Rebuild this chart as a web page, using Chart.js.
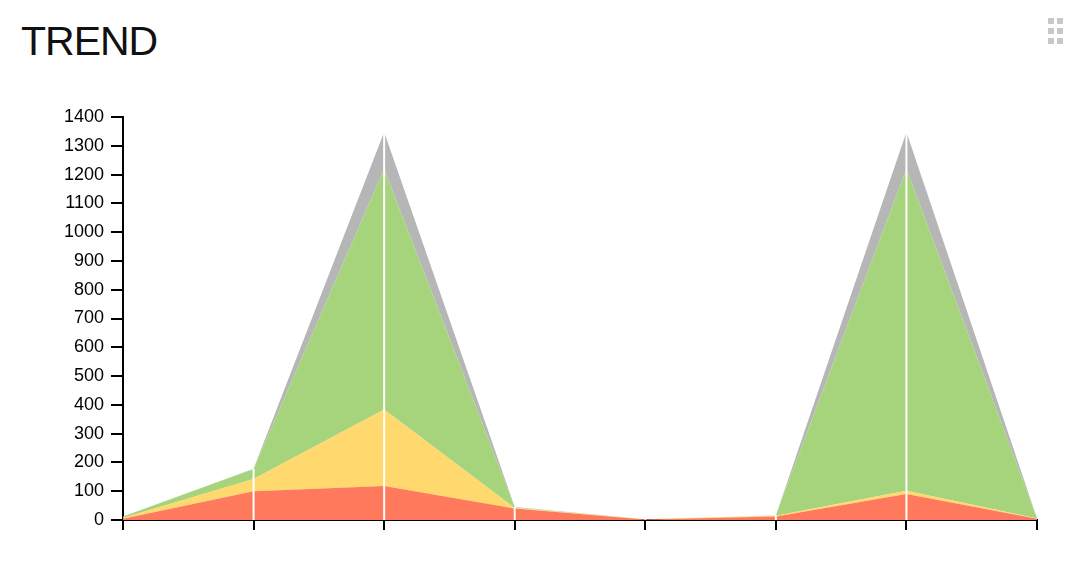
<!DOCTYPE html>
<html>
<head>
<meta charset="utf-8">
<script src="https://cdn.jsdelivr.net/npm/chart.js@4/dist/chart.umd.min.js"></script>
<style>
  html, body { margin:0; padding:0; background:#fff; }
  #wrap { position:relative; width:1080px; height:580px; overflow:hidden; }
  #title { position:absolute; left:21px; top:18px; font-family:"Liberation Sans", Arial, sans-serif; font-size:41px; color:#111; letter-spacing:-1px; }
  #grip { position:absolute; left:1048px; top:18px; width:16px; height:26px; }
  #grip div { position:absolute; width:6px; height:6px; background:#c8c8c8; }
  #cv { position:absolute; left:0; top:0; }
</style>
</head>
<body>
<div id="wrap">
  <div id="title">TREND</div>
  <div id="grip">
    <div style="left:0;top:0"></div><div style="left:9px;top:0"></div>
    <div style="left:0;top:10px"></div><div style="left:9px;top:10px"></div>
    <div style="left:0;top:20px"></div><div style="left:9px;top:20px"></div>
  </div>
  <canvas id="cv" width="1080" height="580"></canvas>
</div>
<script>
const categories = ['1','2','3','4','5','6','7','8'];
const redValues    = [4, 100, 118, 40, 2, 12, 90, 4];
const yellowValues = [3, 42, 266, 2, 1, 3, 12, 1];
const greenValues  = [5, 35, 835, 2, 0, 1, 1117, 1];
const grayValues   = [0, 1, 129, 1, 0, 0, 129, 0];
const yTicks = { min: 0, max: 1400, step: 100 };

const seriesList = [
  { label: 'Red', data: redValues, color: 'rgb(255,122,92)' },
  { label: 'Yellow', data: yellowValues, color: 'rgb(255,216,110)' },
  { label: 'Green', data: greenValues, color: 'rgb(166,212,124)' },
  { label: 'Gray', data: grayValues, color: 'rgb(182,182,182)' }
];

const whiteLines = {
  id: 'whiteLines',
  afterDatasetsDraw(chart) {
    const ctx = chart.ctx, xs = chart.scales.x, ys = chart.scales.y;
    ctx.save();
    ctx.strokeStyle = '#ffffff';
    ctx.lineWidth = 2;
    categories.forEach((c, i) => {
      if (i === 0 || i === categories.length - 1) return;
      let total = 0;
      seriesList.forEach(s => total += s.data[i]);
      const x = xs.getPixelForValue(i);
      ctx.beginPath();
      ctx.moveTo(x, ys.getPixelForValue(0));
      ctx.lineTo(x, ys.getPixelForValue(total));
      ctx.stroke();
    });
    ctx.restore();
  }
};

new Chart(document.getElementById('cv'), {
  type: 'line',
  data: {
    labels: categories,
    datasets: seriesList.map((s, i) => ({
      label: s.label,
      data: s.data,
      backgroundColor: s.color,
      borderColor: s.color,
      borderWidth: 0,
      pointRadius: 0,
      tension: 0,
      fill: i === 0 ? 'origin' : '-1'
    }))
  },
  options: {
    responsive: false,
    animation: false,
    layout: { padding: { left: 0, right: 43, top: 117, bottom: 0 } },
    plugins: { legend: { display: false }, tooltip: { enabled: false } },
    scales: {
      x: {
        offset: false,
        border: { display: true, color: '#000', width: 2 },
        grid: { drawOnChartArea: false, drawTicks: true, tickLength: 10, color: '#000', lineWidth: 2 },
        ticks: { display: false },
        afterFit(scale) { scale.height = 60; }
      },
      y: {
        stacked: true,
        min: yTicks.min, max: yTicks.max,
        border: { display: true, color: '#000', width: 2 },
        grid: { drawOnChartArea: false, drawTicks: true, tickLength: 12, color: '#000', lineWidth: 2 },
        ticks: { stepSize: yTicks.step, color: '#000', padding: 7, font: { family: 'Liberation Sans', size: 18 }, callback: v => String(v) },
        afterFit(scale) { scale.width = 123; }
      }
    }
  },
  plugins: [whiteLines]
});
</script>
</body>
</html>
